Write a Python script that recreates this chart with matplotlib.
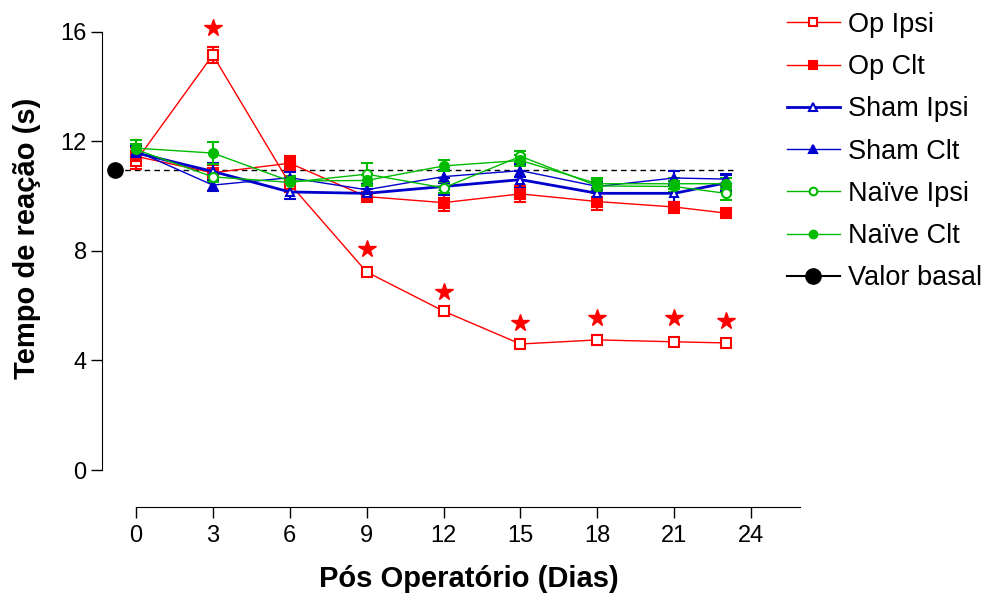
import matplotlib
matplotlib.use("Agg")
import matplotlib.pyplot as plt
from matplotlib.lines import Line2D

plt.rcParams['font.family'] = ['Liberation Sans', 'DejaVu Sans']

# Data
dias = [0, 3, 6, 9, 12, 15, 18, 21, 23]

op_ipsi = [11.27, 15.15, 10.45, 7.23, 5.8, 4.6, 4.75, 4.68, 4.64]
op_ipsi_err = [0.3, 0.3, 0.3, 0.1, 0.1, 0.1, 0.1, 0.1, 0.1]
op_clt = [11.45, 10.85, 11.2, 9.98, 9.76, 10.08, 9.8, 9.6, 9.38]
op_clt_err = [0.3, 0.3, 0.25, 0.15, 0.3, 0.3, 0.3, 0.2, 0.15]
sham_ipsi = [11.58, 10.9, 10.15, 10.1, 10.35, 10.6, 10.1, 10.1, 10.48]
sham_ipsi_err = [0.25, 0.3, 0.25, 0.15, 0.3, 0.3, 0.2, 0.3, 0.3]
sham_clt = [11.65, 10.4, 10.67, 10.23, 10.71, 10.93, 10.35, 10.66, 10.62]
sham_clt_err = [0.2, 0.2, 0.2, 0.2, 0.25, 0.25, 0.15, 0.25, 0.2]
naive_ipsi = [11.7, 10.7, 10.5, 10.8, 10.3, 11.45, 10.37, 10.35, 10.1]
naive_ipsi_err = [0.2, 0.2, 0.2, 0.4, 0.2, 0.2, 0.2, 0.2, 0.25]
naive_clt = [11.75, 11.57, 10.55, 10.57, 11.1, 11.3, 10.45, 10.45, 10.45]
naive_clt_err = [0.3, 0.4, 0.2, 0.2, 0.2, 0.2, 0.2, 0.2, 0.2]

basal_x = -0.82
basal = 10.95
basal_fim = 23.4

stars_x = [3, 9, 12, 15, 18, 21, 23]
stars_y = [16.15, 8.07, 6.5, 5.37, 5.55, 5.55, 5.44]

red = '#ff0000'
blue = '#0000cc'
green = '#00bb00'

fig = plt.figure(figsize=(9.94, 5.94), dpi=100)
ax = fig.add_axes([102/994, 87/594, (800-102)/994, (576-87)/594])

# basal dashed line + point
ax.plot([basal_x, basal_fim], [basal, basal], ls=(0, (4, 3)), c='black', lw=1)
ax.plot([basal_x], [basal], 'o', c='black', ms=11, zorder=5)

series = [
    (op_ipsi, op_ipsi_err, red, 's', 'white', 7, 1.0, "Op Ipsi"),
    (op_clt, op_clt_err, red, 's', red, 7, 1.0, "Op Clt"),
    (sham_ipsi, sham_ipsi_err, blue, '^', 'white', 6, 2.0, "Sham Ipsi"),
    (sham_clt, sham_clt_err, blue, '^', blue, 6, 1.0, "Sham Clt"),
    (naive_ipsi, naive_ipsi_err, green, 'o', 'white', 6.5, 1.0, "Naïve Ipsi"),
    (naive_clt, naive_clt_err, green, 'o', green, 6.5, 1.0, "Naïve Clt"),
]

handles = []
for vals, err, col, mk, fc, ms, lw, lab in series:
    ax.errorbar(dias, vals, yerr=err, color=col, marker=mk, mfc=fc, mec=col,
                ms=ms, mew=1.5, lw=lw, elinewidth=1.5, capsize=4, capthick=1.5)
    handles.append(Line2D([], [], color=col, marker=mk, mfc=fc, mec=col,
                          ms=ms * 0.85, mew=1.5, lw=lw, label=lab))
handles.append(Line2D([], [], color='black', marker='o', ms=11, lw=1.5, label="Valor basal"))

ax.plot(stars_x, stars_y, '*', c=red, ms=13, ls='none')

ax.set_xlim(-1.32, 25.9)
ax.set_ylim(-1.35, 16.5)
ax.spines['top'].set_visible(False)
ax.spines['right'].set_visible(False)
ax.spines['left'].set_bounds(0, 16)
ax.spines['bottom'].set_bounds(0, 25.9)
ax.set_xticks([0, 3, 6, 9, 12, 15, 18, 21, 24])
ax.set_yticks([0, 4, 8, 12, 16])
ax.tick_params(direction='out', length=8, width=1, labelsize=17)
ax.tick_params(axis='y', pad=3)
ax.tick_params(axis='x', pad=5)

ax.set_xlabel("Pós Operatório (Dias)", fontsize=21, fontweight='bold')
ax.set_ylabel("Tempo de reação (s)", fontsize=21, fontweight='bold')
ax.xaxis.set_label_coords(0.526, -0.118)
ax.yaxis.set_label_coords(-0.088, 0.549)

fig.legend(handles=handles, loc='upper left', bbox_to_anchor=(787/994, 0.98),
           frameon=False, fontsize=19.5, handlelength=1.95, handletextpad=0.3,
           labelspacing=0.6, borderaxespad=0.0, borderpad=0.0)

fig.savefig("out.png", dpi=100)
